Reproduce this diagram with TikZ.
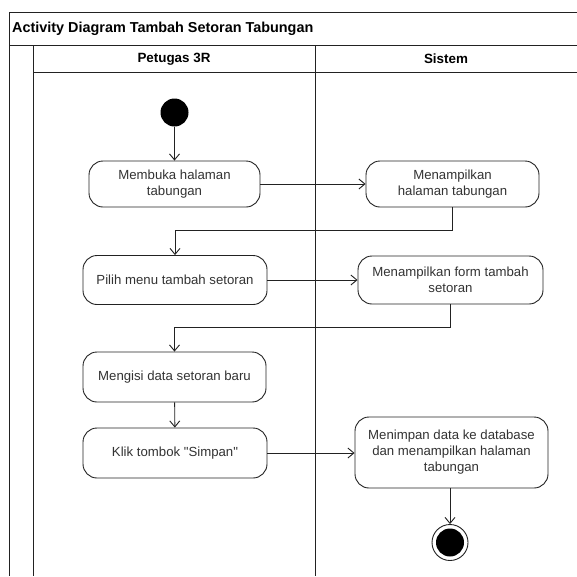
\documentclass[tikz,border=0pt]{standalone}
\usepackage{fontspec}
\setmainfont{Liberation Sans}
\usetikzlibrary{arrows.meta}
\definecolor{txtgray}{HTML}{333333}
\definecolor{linegray}{HTML}{222222}
\tikzset{
  lane/.style={draw=linegray, line width=0.9pt},
  action/.style={draw=linegray, line width=0.9pt, rounded corners=14pt, align=center,
    font=\fontsize{13.2}{16}\selectfont, text=txtgray, inner sep=0pt},
  flow/.style={draw=linegray, line width=0.9pt, -{Straight Barb[length=6pt,width=10pt]}},
  initnode/.style={circle, fill=black, minimum size=28pt, inner sep=0pt},
  finalring/.style={circle, draw=linegray, line width=0.9pt, fill=white, minimum size=36pt, inner sep=0pt},
  headtext/.style={font=\bfseries\fontsize{13.4}{16}\selectfont, inner sep=0pt}
}
\begin{document}
\begin{tikzpicture}[x=1pt, y=-1pt]
  \useasboundingbox (0,0) rectangle (577,576);
  \fill[white] (0,0) rectangle (577,576);

  % swimlane frame
  \draw[lane] (577,12.5) -- (9,12.5) -- (9,576);
  \draw[lane] (9,45) -- (577,45);
  \draw[lane] (33,45) -- (33,576);
  \draw[lane] (33,72.7) -- (577,72.7);
  \draw[lane] (315,45) -- (315,576);

  \node[anchor=west, font=\bfseries\fontsize{14.4}{17}\selectfont, inner sep=0pt] (title) at (12,29) {Activity Diagram Tambah Setoran Tabungan};
  \node[headtext] (laneA) at (174,59) {Petugas 3R};
  \node[headtext] (laneB) at (446,59) {Sistem};

  % activities
  \node[initnode] (start) at (174.5,112.5) {};
  \node[action, minimum width=171pt, minimum height=46pt] (b1) at (174.5,184) {Membuka halaman\\tabungan};
  \node[action, minimum width=173pt, minimum height=46pt] (b2) at (452.5,184) {Menampilkan\\halaman tabungan};
  \node[action, minimum width=184pt, minimum height=49pt] (b3) at (175,280) {Pilih menu tambah setoran};
  \node[action, minimum width=185pt, minimum height=48pt] (b4) at (450.5,280) {Menampilkan form tambah\\setoran};
  \node[action, minimum width=183pt, minimum height=50pt] (b5) at (174.5,377) {Mengisi data setoran baru};
  \node[action, minimum width=184pt, minimum height=50pt] (b6) at (175,453) {Klik tombok \textquotedbl Simpan\textquotedbl};
  \node[action, minimum width=193pt, minimum height=71pt] (b7) at (451.5,452.5) {Menimpan data ke database\\dan menampilkan halaman\\tabungan};
  \node[finalring] (end) at (450,542.5) {};
  \fill[black] (end.center) circle (14pt);

  % control flow
  \draw[flow] (start) -- (b1);
  \draw[flow] (b1) -- (b2);
  \draw[flow] (b2.south) -- ++(0,23) -| (b3.north);
  \draw[flow] (b3) -- (b4);
  \draw[flow] (b4.south) -- ++(0,23) -| (b5.north);
  \draw[flow] (b5) -- (b6);
  \draw[flow] (b6) -- (b6 -| b7.west);
  \draw[flow] (b7.south -| end) -- (end);
\end{tikzpicture}
\end{document}
